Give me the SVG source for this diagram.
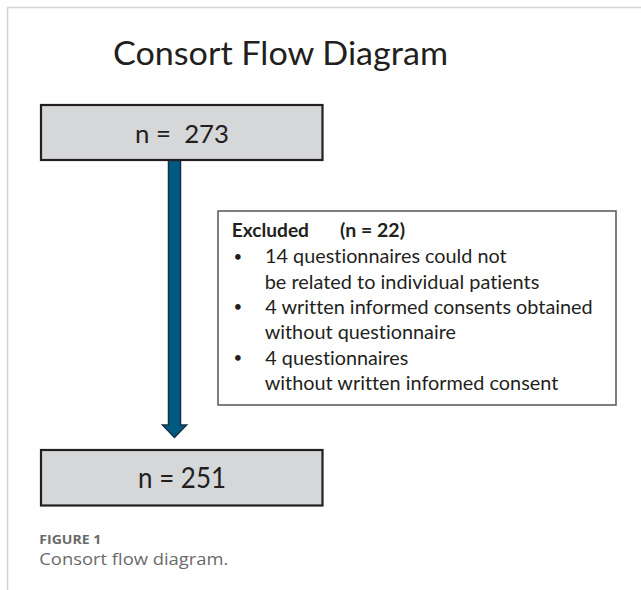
<svg xmlns="http://www.w3.org/2000/svg" width="641" height="590" viewBox="0 0 641 590">
<style>
.box{fill:#d6d7d9;stroke:#231f20;stroke-width:2.2}
.ex{fill:#fff;stroke:#555;stroke-width:1.5}
.t{font-family:Lato,"Liberation Sans",sans-serif;fill:#231f20;font-variant-ligatures:none}
.b{font-size:19px}
.bu{font-size:15px}
.bold{font-weight:bold}
.cap{font-family:"Open Sans","Liberation Sans",sans-serif;fill:#6a6a6a}
</style>
<rect width="641" height="590" fill="#fff"/>
<g id="frame" stroke="#d4d4d4" stroke-width="1.5" fill="none">
<line x1="7" y1="7.5" x2="641" y2="7.5"/>
<line x1="7.5" y1="7" x2="7.5" y2="590"/>
</g>
<text id="title" class="t" x="113" y="65" font-size="33" textLength="335" lengthAdjust="spacingAndGlyphs">Consort Flow Diagram</text>
<g id="connectors">
<path d="M168.5,160 V425 H162.5 L174.5,437.5 L186.5,425 H180.5 V160 Z" fill="#005a80" stroke="#16304a" stroke-width="1.5" stroke-linejoin="miter"/>
</g>
<g id="n273">
<rect class="box" x="41" y="105" width="281.5" height="55"/>
<text class="t" x="135" y="143" font-size="25" xml:space="preserve" textLength="94" lengthAdjust="spacingAndGlyphs">n =  273</text>
</g>
<g id="excluded">
<rect class="ex" x="218" y="211" width="398" height="194"/>
<text class="t b bold" x="231.7" y="237.3" textLength="77.3" lengthAdjust="spacingAndGlyphs">Excluded</text>
<text class="t b bold" x="340" y="237.3" textLength="65" lengthAdjust="spacingAndGlyphs">(n = 22)</text>
<text class="t bu" x="233.5" y="261.5">•</text>
<text class="t b" x="265" y="263.3" textLength="241.7" lengthAdjust="spacingAndGlyphs">14 questionnaires could not</text>
<text class="t b" x="264.7" y="288.5" textLength="274.6" lengthAdjust="spacingAndGlyphs">be related to individual patients</text>
<text class="t bu" x="233.5" y="311.7">•</text>
<text class="t b" x="265.3" y="313.5" textLength="327.4" lengthAdjust="spacingAndGlyphs">4 written informed consents obtained</text>
<text class="t b" x="264.7" y="339" textLength="191.3" lengthAdjust="spacingAndGlyphs">without questionnaire</text>
<text class="t bu" x="233.5" y="363.2">•</text>
<text class="t b" x="265.3" y="365" textLength="143" lengthAdjust="spacingAndGlyphs">4 questionnaires</text>
<text class="t b" x="264.7" y="390" textLength="293.6" lengthAdjust="spacingAndGlyphs">without written informed consent</text>
</g>
<g id="n251">
<rect class="box" x="41" y="450" width="281.5" height="55.5"/>
<text class="t" x="138" y="487.7" font-size="29" textLength="88" lengthAdjust="spacingAndGlyphs">n = 251</text>
</g>
<g id="caption">
<text class="cap" x="39.3" y="544" font-size="13" font-weight="bold" textLength="62" lengthAdjust="spacingAndGlyphs">FIGURE 1</text>
<text class="cap" x="39.3" y="565" font-size="16" textLength="189" lengthAdjust="spacingAndGlyphs">Consort flow diagram.</text>
</g>
</svg>
